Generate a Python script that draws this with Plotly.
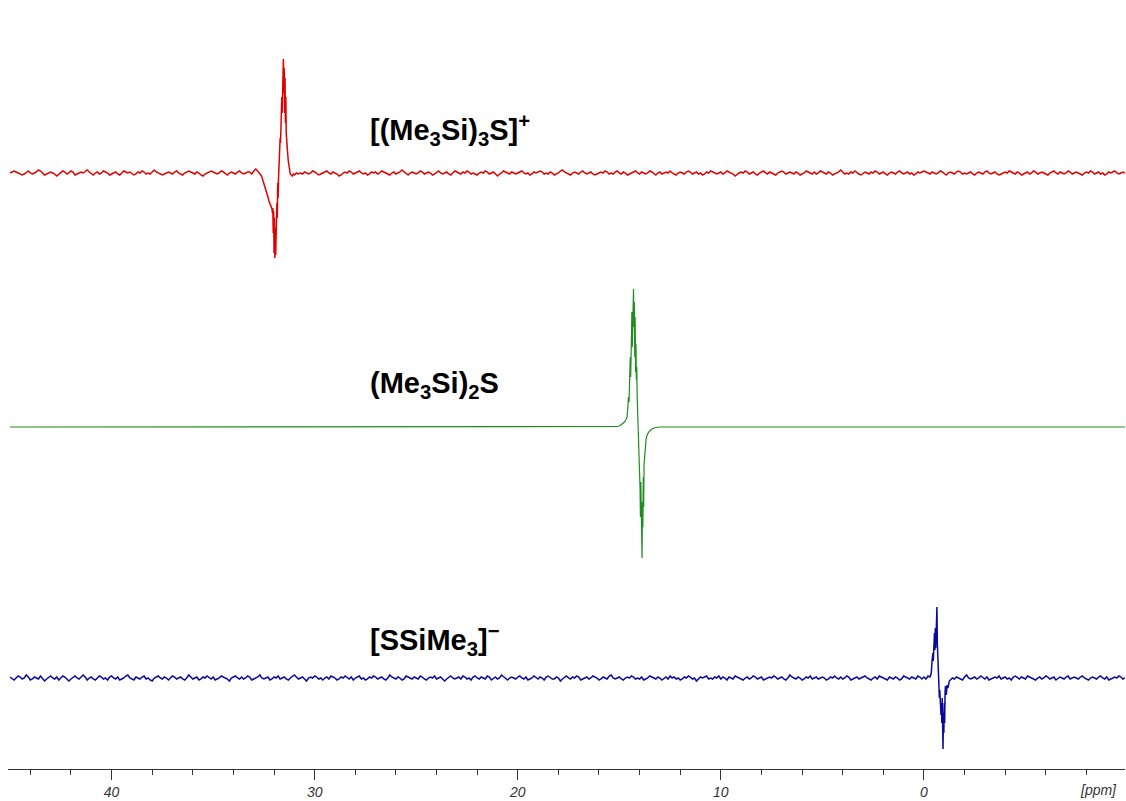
import numpy as np
import plotly.graph_objects as go

# ---------------- data ----------------
# chemical-shift grid for the noisy baselines (ppm, 45.0 -> -9.9)
grid_start, grid_step, grid_n = 45.0, 0.1, 550

# baseline noise of the [(Me3Si)3S]+ spectrum (relative intensity)
red_noise = [
    0,1,2,1,0,-1,-2,-1,1,2,0,-1,0,1,3,2,0,-2,-1,0,1,0,-1,-3,-1,
    1,2,1,-1,0,2,1,-2,-1,0,1,0,2,3,1,-1,-2,0,1,-1,0,2,1,0,-2,
    -1,0,1,-1,-2,0,2,1,0,1,-1,-2,-1,1,0,2,1,-1,0,-1,1,3,1,0,-1,
    -2,-1,0,1,0,-1,1,2,0,-1,-2,0,1,2,1,0,-1,1,0,-2,-3,-1,0,1,2,
    1,0,-1,0,2,1,-1,-2,0,1,0,-1,1,2,0,-1,0,1,-1,-2,-1,1,2,1,0,
    -1,1,0,-2,-1,0,2,3,1,-1,0,1,0,-1,-2,0,1,2,0,-1,1,0,-1,0,2,
    1,-1,-2,-1,0,1,2,0,-1,1,0,-1,-3,-2,0,1,0,2,1,-1,0,1,2,0,-1,
    0,-2,-1,1,0,1,-1,0,2,1,0,-1,-2,0,1,-1,0,1,3,1,-1,-2,0,1,0,
    -1,0,2,1,-1,0,1,0,-2,-1,1,2,0,-1,0,1,-1,-2,0,2,1,0,-1,1,0,
    2,1,-1,0,-1,-2,0,1,0,2,1,-1,0,1,-1,-3,-1,0,2,1,0,-1,1,0,-1,
    0,1,2,0,-1,0,-2,-1,1,0,1,2,1,-1,0,-1,1,0,-2,-1,0,2,3,1,0,
    -1,-2,0,1,0,-1,1,2,0,-1,0,1,-1,-2,-1,0,1,0,2,1,-1,0,-1,1,2,
    0,-1,1,0,-2,-1,0,1,2,0,-1,1,0,-1,0,2,1,-1,-2,0,1,-1,0,1,0,
    2,0,-1,-2,0,1,0,-1,1,2,1,-1,0,1,-1,0,-2,-1,1,0,2,1,0,-1,0,
    1,-1,0,2,1,0,-1,-3,-1,0,1,0,2,1,-1,0,1,-1,-2,0,1,2,0,-1,1,
    0,-1,-2,0,1,2,1,-1,0,1,0,-1,1,0,-2,-1,0,2,1,0,-1,1,-1,0,2,
    1,0,-1,1,0,-2,-1,0,1,3,1,-1,0,-1,1,0,2,0,-1,-2,0,1,0,-1,1,
    0,2,1,-1,0,1,-1,-2,0,1,0,-1,1,2,0,-1,0,1,-1,0,-2,-1,1,0,1,
    2,1,0,-1,1,0,-1,0,2,1,-1,-2,0,1,0,-1,1,2,1,-1,0,-1,0,1,-1,
    -2,0,1,0,-1,1,2,0,-1,0,1,-1,-2,-1,0,1,0,2,1,0,-1,1,0,-2,-1,
    0,1,-1,0,2,1,-1,0,1,0,-1,-2,0,1,2,0,-1,1,0,-1,0,2,1,-1,0,
    1,0,-1,-2,0,1,0,2,1,-1,0,1,-1,0,-2,-1,1,0,1,2,0,-1,0,1,0,
]
# baseline noise of the [SSiMe3]- spectrum
blue_noise = [
    1,-1,-2,0,2,1,-1,0,3,1,-2,-1,1,0,-1,2,0,-3,-1,1,2,0,-1,1,-2,
    0,2,1,-1,-3,-1,1,2,0,-1,1,3,1,-2,0,1,-1,-2,0,2,1,-1,0,-2,1,
    2,0,-1,1,-2,-1,0,2,3,0,-1,-2,1,0,-1,1,2,-1,0,-2,-3,0,1,2,0,
    -1,1,0,-2,0,2,1,-1,0,1,-1,-2,0,3,1,-1,0,1,-2,-1,1,0,2,0,-1,
    1,-2,-1,0,2,1,0,-1,-3,0,1,2,0,-1,1,-1,0,2,1,-2,-1,0,1,3,0,
    -1,0,1,-2,-1,1,0,2,-1,0,1,-1,-2,0,2,3,1,-1,0,1,-1,-3,0,1,0,
    2,1,-1,0,-2,0,1,-1,2,1,0,-2,-1,1,0,2,0,-1,1,-2,0,1,2,-1,0,
    -2,-1,1,0,2,1,-1,0,1,-1,-2,0,3,1,0,-1,1,0,-2,-1,2,1,0,-1,1,
    0,-1,2,1,-1,-2,0,1,0,2,-1,0,1,-1,-3,-1,1,2,0,-1,0,1,-1,2,1,
    -1,0,-2,1,2,0,-1,1,0,-1,2,1,-2,0,1,-1,0,3,1,-1,-2,0,1,0,-1,
    1,2,0,-1,1,-2,-1,0,2,0,-1,1,0,-2,1,2,0,-1,-1,1,0,-3,-1,1,2,
    0,-1,1,0,2,1,-2,-1,0,1,-1,0,2,1,0,-2,-1,1,0,-1,2,3,0,-1,0,
    1,-1,-2,0,1,0,2,1,-1,0,-1,1,-2,-1,0,2,1,0,-1,1,0,-2,0,1,-1,
    2,0,1,-1,0,-2,-1,1,0,2,1,-1,0,-3,-1,1,0,1,2,-1,0,-1,1,0,2,
    -1,1,0,-2,1,0,-1,2,1,0,-1,-2,0,1,-1,0,2,1,-1,0,1,-2,-1,0,1,
    0,2,1,-1,0,1,-1,-2,0,3,1,0,-1,1,0,-2,-1,1,0,2,-1,0,1,-1,0,
    1,0,-2,-1,1,0,2,0,-1,1,-1,0,2,1,-2,-1,0,1,-1,0,1,2,0,-1,-2,
    0,1,-1,2,1,0,-1,-2,1,0,-1,1,0,-2,-1,2,1,0,-1,1,0,-1,2,1,-1,
    -2,0,1,0,-1,2,1,-1,0,1,-2,-1,0,2,0,-1,1,0,-1,-2,1,3,0,-1,0,
    1,-1,0,2,0,-1,1,-2,-1,0,1,0,2,-1,0,1,-1,0,-2,1,2,0,-1,1,0,
    -1,2,1,0,-1,-2,0,1,-1,0,2,1,-1,0,1,-2,0,1,0,-1,1,2,-1,0,1,
    0,-1,1,2,0,-1,-2,0,1,0,-1,1,2,0,-1,1,-2,-1,0,1,0,2,1,-1,0,
]

# signal regions (ppm, intensity)
red_peak_ppm = [33.20,33.10,33.00,32.95,32.90,32.85,32.80,32.75,32.70,32.65,32.60,32.55,32.50,
                32.45,32.40,32.35,32.30,32.25,32.20,32.15,32.10,32.08,32.06,32.04,32.02,32.00,
                31.98,31.96,31.94,31.92,31.90,31.88,31.86,31.84,31.82,31.80,31.78,31.76,31.74,
                31.72,31.70,31.68,31.66,31.64,31.62,31.60,31.58,31.56,31.54,31.52,31.50,31.48,
                31.46,31.44,31.42,31.40,31.38,31.35,31.30,31.25,31.20,31.15,31.10,31.05,31.00,
                30.90,30.80]
red_peak_int = [1,-1,2,3,4,3,2,1,0,-2,-4,-7,-10,
                -13,-16,-20,-24,-28,-31,-33,-36,-40,-35,-60,-38,-80,
                -45,-85,-55,-82,-50,-70,-30,-45,-10,-25,-5,10,5,
                22,35,30,55,45,76,60,100,70,114,80,105,60,
                95,50,76,40,36,25,12,3,-1,-2,-3,-1,-2,
                0,-1]

green_ppm = [45.0,16.0,15.3,15.1,14.95,14.85,14.75,14.68,14.62,14.58,14.55,14.52,14.50,14.48,
             14.46,14.44,14.42,14.40,14.38,14.36,14.34,14.32,14.30,14.28,14.26,14.24,14.22,
             14.20,14.18,14.16,14.14,14.12,14.10,14.08,14.06,14.04,14.02,14.00,13.98,13.96,
             13.94,13.92,13.90,13.88,13.86,13.84,13.82,13.80,13.78,13.75,13.72,13.68,13.63,
             13.55,13.45,13.35,13.2,13.0,12.0,-9.9]
green_int = [0,0,0,0.5,1.5,3,5,7,10,20,30,25,45,33,
             70,50,95,60,115,80,130,90,138,100,125,70,110,
             55,83,47,60,30,20,8,-5,-20,-35,-47,-60,-90,
             -55,-103,-65,-131,-75,-100,-50,-80,-37,-28,-20,-12,-8,
             -5,-3,-1.5,-0.5,0,0,0]

blue_peak_ppm = [0.0,-0.1,-0.2,-0.3,-0.36,-0.40,-0.44,-0.46,-0.48,-0.50,-0.52,-0.54,-0.56,
                 -0.58,-0.60,-0.62,-0.64,-0.66,-0.68,-0.70,-0.72,-0.74,-0.76,-0.78,-0.80,
                 -0.82,-0.84,-0.86,-0.88,-0.90,-0.92,-0.94,-0.96,-0.98,-1.00,-1.02,-1.04,
                 -1.06,-1.10,-1.14,-1.18,-1.25,-1.35]
blue_peak_int = [1,-1,2,1,5,17,25,17,35,20,45,28,50,
                 30,55,40,71,35,20,5,-5,-10,-20,-12,-30,
                 -18,-37,-25,-45,-20,-53,-71,-35,-55,-25,-45,-15,
                 -8,-17,-7,-10,-3,-1]

labels = ["[(Me<sub>3</sub>Si)<sub>3</sub>S]<sup>+</sup>",
          "(Me<sub>3</sub>Si)<sub>2</sub>S",
          "[SSiMe<sub>3</sub>]<sup>\u2212</sup>"]
tick_vals = [40, 30, 20, 10, 0]

# ---------------- build traces ----------------
grid = np.round(grid_start - grid_step * np.arange(grid_n), 2)
red_noise = np.array(red_noise, dtype=float)
blue_noise = np.array(blue_noise, dtype=float)


def splice(noise, pk_x, pk_y):
    hi, lo = max(pk_x), min(pk_x)
    left = grid > hi + 0.03
    right = grid < lo - 0.03
    xs = np.concatenate([grid[left], pk_x, grid[right]])
    ys = np.concatenate([noise[left], pk_y, noise[right]])
    return xs, ys


rx, ry = splice(red_noise, np.array(red_peak_ppm), np.array(red_peak_int, dtype=float))
bx, by = splice(blue_noise, np.array(blue_peak_ppm), np.array(blue_peak_int, dtype=float))

fig = go.Figure()
fig.add_trace(go.Scatter(x=rx, y=ry, mode="lines", line=dict(color="#e00000", width=1.5),
                         xaxis="x", yaxis="y3", showlegend=False, hoverinfo="skip"))
fig.add_trace(go.Scatter(x=green_ppm, y=green_int, mode="lines", line=dict(color="#1e8c1e", width=1.2),
                         xaxis="x", yaxis="y2", showlegend=False, hoverinfo="skip"))
fig.add_trace(go.Scatter(x=bx, y=by, mode="lines", line=dict(color="#0a0a9a", width=1.5),
                         xaxis="x", yaxis="y", showlegend=False, hoverinfo="skip"))

PH = 769.0
def dom(top_px, bot_px):
    return [max(0.0, (PH - bot_px) / PH), min(1.0, (PH - top_px) / PH)]

yhidden = dict(visible=False, showgrid=False, zeroline=False, fixedrange=True)

fig.update_layout(
    width=1126, height=801,
    margin=dict(l=8, r=1, t=0, b=32, pad=0),
    paper_bgcolor="white", plot_bgcolor="white",
    xaxis=dict(range=[45.1, -9.9], showgrid=False, zeroline=False,
               showline=True, linecolor="#333333", linewidth=1,
               ticks="outside", ticklen=10, tickwidth=1, tickcolor="#333333",
               tickvals=tick_vals, ticktext=[str(v) for v in tick_vals],
               tickfont=dict(family="Liberation Sans, Arial", size=14, color="#333333", style="italic"),
               minor=dict(dtick=2, tick0=0, ticks="outside", ticklen=5, tickwidth=1,
                          tickcolor="#333333", showgrid=False),
               anchor="y"),
    yaxis=dict(domain=dom(585, 769), range=[-91, 93], anchor="x", **yhidden),
    yaxis2=dict(domain=dom(282, 572), range=[-145, 145], anchor="x", **yhidden),
    yaxis3=dict(domain=dom(30, 280), range=[-107, 143], anchor="x", **yhidden),
)

label_y_px = [130, 385, 640]
for txt, ypx in zip(labels, label_y_px):
    fig.add_annotation(text=txt, xref="paper", yref="paper",
                       x=(368 - 8) / 1117.0, y=(PH - ypx) / PH,
                       xanchor="left", yanchor="middle", showarrow=False,
                       font=dict(family="Liberation Sans, Arial", size=29, color="black", weight="bold"))

fig.add_annotation(text="[ppm]", xref="paper", yref="paper",
                   x=(1098 - 8) / 1117.0, y=-(790 - 769) / PH,
                   xanchor="center", yanchor="middle", showarrow=False,
                   font=dict(family="Liberation Sans, Arial", size=14, color="#333333", style="italic"))

fig.write_html("out.html", config={"displayModeBar": False},
               post_script="document.body.style.margin='0px';")
